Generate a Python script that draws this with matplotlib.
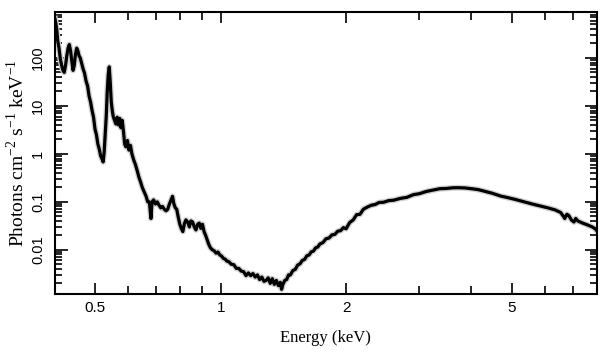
import numpy as np
import matplotlib
matplotlib.use('Agg')
import matplotlib.pyplot as plt
from matplotlib.ticker import FixedLocator, NullFormatter, FixedFormatter, LogLocator

plt.rcParams['mathtext.fontset'] = 'custom'
plt.rcParams['mathtext.rm'] = 'Liberation Serif'

# spectrum (energy in keV, flux in photons cm^-2 s^-1 keV^-1)
energy = [0.400, 0.402, 0.404, 0.406, 0.409, 0.412, 0.415, 0.418, 0.421, 0.424,
          0.427, 0.430, 0.433, 0.436, 0.439, 0.442, 0.445, 0.448, 0.451, 0.454,
          0.457, 0.460, 0.463, 0.467, 0.471, 0.475, 0.479, 0.483, 0.487, 0.491,
          0.495, 0.499, 0.503, 0.507, 0.511, 0.515, 0.519, 0.522, 0.525, 0.528,
          0.531, 0.534, 0.537, 0.540, 0.543, 0.546, 0.549, 0.552, 0.556, 0.560,
          0.564, 0.568, 0.572, 0.576, 0.580, 0.584, 0.588, 0.592, 0.597, 0.602,
          0.607, 0.612, 0.618, 0.624, 0.630, 0.636, 0.642, 0.648, 0.655, 0.662,
          0.668, 0.674, 0.680, 0.684, 0.690, 0.697, 0.704, 0.711, 0.718, 0.725,
          0.732, 0.739, 0.746, 0.753, 0.760, 0.766, 0.772, 0.778, 0.784, 0.790,
          0.797, 0.804, 0.811, 0.818, 0.825, 0.833, 0.841, 0.848, 0.856, 0.864,
          0.872, 0.880, 0.888, 0.896, 0.904, 0.912, 0.920, 0.928, 0.936, 0.945,
          0.955, 0.965, 0.975, 0.985, 0.995, 1.005, 1.015, 1.025, 1.035, 1.045,
          1.06, 1.075, 1.09, 1.105, 1.12, 1.135, 1.15, 1.165, 1.18, 1.195,
          1.21, 1.225, 1.24, 1.255, 1.27, 1.285, 1.30, 1.315, 1.33, 1.345,
          1.36, 1.375, 1.39, 1.40, 1.41, 1.425, 1.44, 1.455, 1.47, 1.49,
          1.51, 1.53, 1.55, 1.57, 1.59, 1.61, 1.63, 1.65, 1.67, 1.69,
          1.71, 1.73, 1.76, 1.79, 1.82, 1.85, 1.88, 1.91, 1.94, 1.97,
          2.00, 2.04, 2.08, 2.12, 2.16, 2.20, 2.25, 2.30, 2.35, 2.40,
          2.46, 2.53, 2.60, 2.70, 2.80, 2.90, 3.00, 3.12, 3.24, 3.36,
          3.48, 3.60, 3.72, 3.85, 4.00, 4.15, 4.30, 4.50, 4.70, 4.90,
          5.10, 5.35, 5.60, 5.85, 6.10, 6.35, 6.55, 6.65, 6.70, 6.78,
          6.85, 6.95, 7.05, 7.12, 7.20, 7.40, 7.60, 7.80, 7.95, 8.00]
flux = [650, 520, 380, 230, 160, 95, 70, 55, 50, 70,
        110, 160, 190, 140, 85, 55, 70, 120, 160, 140,
        110, 100, 80, 60, 48, 33, 26, 16, 12, 8.0,
        5.8, 3.3, 2.5, 1.6, 1.25, 0.9, 0.78, 0.68, 1.1, 2.5,
        6, 20, 45, 65, 30, 12, 8, 6, 5, 4.2,
        5.8, 4, 5.5, 3.5, 5, 3, 1.6, 1.4, 1.9, 1.2,
        1.5, 1.0, 0.75, 0.6, 0.45, 0.33, 0.26, 0.2, 0.16, 0.13,
        0.1, 0.1, 0.045, 0.1, 0.11, 0.09, 0.1, 0.085, 0.075, 0.08,
        0.07, 0.065, 0.07, 0.09, 0.11, 0.13, 0.09, 0.075, 0.07, 0.05,
        0.035, 0.028, 0.024, 0.035, 0.042, 0.038, 0.03, 0.04, 0.038, 0.03,
        0.026, 0.034, 0.036, 0.028, 0.034, 0.024, 0.02, 0.016, 0.013, 0.011,
        0.01, 0.0095, 0.0085, 0.009, 0.0078, 0.0074, 0.0066, 0.0064, 0.0058, 0.0057,
        0.0050, 0.0049, 0.0041, 0.0041, 0.0036, 0.0035, 0.0029, 0.0033, 0.0029, 0.0032,
        0.0027, 0.0030, 0.0024, 0.0027, 0.0022, 0.0023, 0.0026, 0.0020, 0.0025, 0.0019,
        0.0023, 0.0018, 0.0021, 0.0015, 0.0019, 0.0023, 0.0024, 0.0030, 0.0030, 0.0037,
        0.0039, 0.0048, 0.0051, 0.0060, 0.0063, 0.0075, 0.0078, 0.0091, 0.0094, 0.0110,
        0.0114, 0.0132, 0.0142, 0.0170, 0.0176, 0.0205, 0.021, 0.0245, 0.025, 0.029,
        0.0275, 0.037, 0.042, 0.054, 0.055, 0.070, 0.078, 0.085, 0.088, 0.097,
        0.098, 0.106, 0.108, 0.118, 0.124, 0.141, 0.148, 0.165, 0.176, 0.188,
        0.190, 0.196, 0.197, 0.195, 0.188, 0.180, 0.166, 0.150, 0.132, 0.122,
        0.112, 0.100, 0.090, 0.082, 0.075, 0.068, 0.060, 0.050, 0.045, 0.055,
        0.052, 0.042, 0.038, 0.045, 0.040, 0.036, 0.033, 0.030, 0.027, 0.025]

xticks_major = [0.5, 1, 2, 5]
xtick_labels = ['0.5', '1', '2', '5']
xticks_minor = [0.6, 0.7, 0.8, 0.9, 3, 4, 6, 7]
yticks = [0.01, 0.1, 1, 10, 100]
ytick_labels = ['0.01', '0.1', '1', '10', '100']

fig = plt.figure(figsize=(6.09, 3.57), dpi=100)
ax = fig.add_axes([0.0903, 0.1765, 0.8897, 0.7895])

# grey halo standing in for the error bars, then the data line
ax.plot(energy, flux, color='#d0d0d0', lw=4.2)
ax.plot(energy, flux, color='black', lw=2.3)

ax.set_xscale('log')
ax.set_yscale('log')
ax.set_xlim(0.4, 8.0)
ax.set_ylim(0.0012, 900)

ax.xaxis.set_major_locator(FixedLocator(xticks_major))
ax.xaxis.set_major_formatter(FixedFormatter(xtick_labels))
ax.xaxis.set_minor_locator(FixedLocator(xticks_minor))
ax.xaxis.set_minor_formatter(NullFormatter())
ax.yaxis.set_major_locator(FixedLocator(yticks))
ax.yaxis.set_major_formatter(FixedFormatter(ytick_labels))
ax.yaxis.set_minor_locator(LogLocator(base=10, subs=np.arange(2, 10), numticks=20))
ax.yaxis.set_minor_formatter(NullFormatter())

ax.tick_params(which='both', direction='in', top=True, right=True, width=1.2)
ax.tick_params(axis='x', which='major', length=8, pad=5, labelsize=11)
ax.tick_params(axis='x', which='minor', length=6)
ax.tick_params(axis='y', which='major', length=9, pad=7, labelsize=10.5)
ax.tick_params(axis='y', which='minor', length=5)
for lab in ax.get_xticklabels() + ax.get_yticklabels():
    lab.set_family('Liberation Sans')
for lab in ax.get_yticklabels():
    lab.set_rotation(90)
    lab.set_va('center')
for s in ax.spines.values():
    s.set_linewidth(1.5)

ax.set_xlabel('Energy (keV)', family='Liberation Serif', fontsize=12, labelpad=11)
ax.set_ylabel('Photons cm$^{-2}$ s$^{-1}$ keV$^{-1}$', family='Liberation Serif',
              fontsize=14, labelpad=2)

fig.savefig('out.png', dpi=100)
